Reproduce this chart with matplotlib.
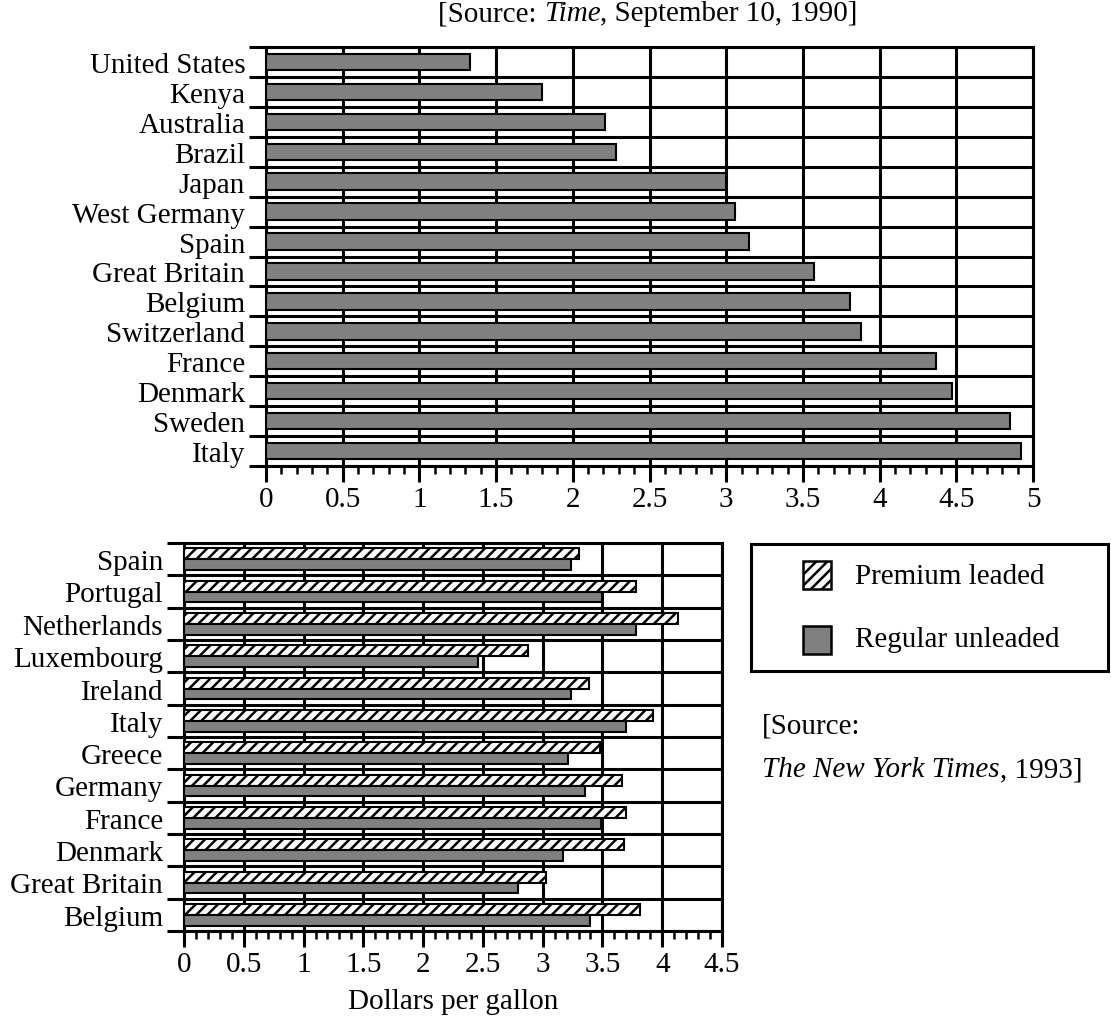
import matplotlib
matplotlib.use("Agg")
import matplotlib.pyplot as plt
import numpy as np
from matplotlib.patches import Rectangle
from matplotlib.ticker import FuncFormatter, MultipleLocator

plt.rcParams["font.family"] = ["Liberation Serif", "DejaVu Serif"]
plt.rcParams["hatch.linewidth"] = 1.8

# ── Data ─────────────────────────────────────────────────────────────────────
countries_1990 = ["United States", "Kenya", "Australia", "Brazil", "Japan",
                  "West Germany", "Spain", "Great Britain", "Belgium",
                  "Switzerland", "France", "Denmark", "Sweden", "Italy"]
price_1990 = [1.33, 1.80, 2.21, 2.28, 3.00, 3.06, 3.15,
              3.57, 3.81, 3.88, 4.37, 4.47, 4.85, 4.92]

countries_1993 = ["Spain", "Portugal", "Netherlands", "Luxembourg", "Ireland",
                  "Italy", "Greece", "Germany", "France", "Denmark",
                  "Great Britain", "Belgium"]
premium_1993 = [3.30, 3.78, 4.13, 2.88, 3.39, 3.92, 3.48, 3.66, 3.70, 3.68, 3.03, 3.81]
regular_1993 = [3.24, 3.50, 3.78, 2.46, 3.24, 3.70, 3.21, 3.35, 3.49, 3.17, 2.79, 3.40]

GRAY = "#808080"
FS = 21
LW = 2.2
W, H = 1111, 1020


def fx(px):
    return px / W


def fy(py):
    return 1 - py / H


def style_axes(ax, labels, xmax):
    n = len(labels)
    ax.set_xlim(0, xmax)
    ax.set_ylim(n - 0.5, -0.5)
    ax.xaxis.set_major_locator(MultipleLocator(0.5))
    ax.xaxis.set_minor_locator(MultipleLocator(0.1))
    ax.xaxis.set_major_formatter(FuncFormatter(lambda v, _: f"{v:g}"))
    ax.set_yticks(np.arange(n + 1) - 0.5)
    ax.set_yticklabels([])
    ax.set_yticks(np.arange(n), labels=labels, minor=True)
    ax.tick_params(axis="x", which="major", length=11.5, width=LW,
                   labelsize=FS, pad=3, color="black")
    ax.tick_params(axis="x", which="minor", length=6, width=1.8, color="black")
    ax.tick_params(axis="y", which="major", length=12, width=LW, color="black")
    ax.tick_params(axis="y", which="minor", length=0, labelsize=FS, pad=15)
    ax.grid(True, which="major", color="black", linewidth=LW)
    ax.set_axisbelow(True)
    for sp in ax.spines.values():
        sp.set_linewidth(LW)
        sp.set_color("black")


fig = plt.figure(figsize=(W / 100, H / 100), dpi=100)
fig.patch.set_facecolor("white")

# ── Top chart (1990) ─────────────────────────────────────────────────────────
ax_top = fig.add_axes([fx(266), fy(467), fx(1033) - fx(266), fy(48) - fy(467)])
y90 = np.arange(len(countries_1990))
ax_top.barh(y90, price_1990, height=0.55, color=GRAY, edgecolor="black",
            linewidth=1.5, zorder=3)
style_axes(ax_top, countries_1990, 5)

# ── Bottom chart (1993) ──────────────────────────────────────────────────────
ax_bot = fig.add_axes([fx(184), fy(932), fx(722) - fx(184), fy(544) - fy(932)])
y93 = np.arange(len(countries_1993))
bh = 0.34
ax_bot.barh(y93 - bh / 2, premium_1993, height=bh, facecolor="white",
            edgecolor="black", hatch="///", linewidth=1.5, zorder=3)
ax_bot.barh(y93 + bh / 2, regular_1993, height=bh, color=GRAY,
            edgecolor="black", linewidth=1.5, zorder=3)
style_axes(ax_bot, countries_1993, 4.5)
ax_bot.set_xlabel("Dollars per gallon", fontsize=FS, labelpad=8)

# ── Legend box ───────────────────────────────────────────────────────────────
fig.add_artist(Rectangle((fx(751), fy(672)), fx(1108) - fx(751), fy(545) - fy(672),
                         transform=fig.transFigure, fill=False,
                         edgecolor="black", linewidth=LW))
fig.add_artist(Rectangle((fx(803), fy(590)), fx(28), 28 / H,
                         transform=fig.transFigure, facecolor="white",
                         edgecolor="black", hatch="///", linewidth=1.8))
fig.add_artist(Rectangle((fx(803), fy(655)), fx(28), 28 / H,
                         transform=fig.transFigure, facecolor=GRAY,
                         edgecolor="black", linewidth=1.8))
fig.text(fx(855), fy(577), "Premium leaded", fontsize=FS, va="center")
fig.text(fx(855), fy(640), "Regular unleaded", fontsize=FS, va="center")

# ── Sources ──────────────────────────────────────────────────────────────────
fig.text(fx(762), fy(727), "[Source:", fontsize=FS, va="center")
t_nyt = fig.text(fx(762), fy(770), "The New York Times", fontsize=FS,
                 style="italic", va="center")
ax_top.annotate(", 1993]", xy=(1, 0), xycoords=t_nyt, fontsize=FS,
                va="bottom", ha="left", annotation_clip=False)

t0 = fig.text(fx(438), fy(14), "[Source: ", fontsize=FS, va="center")
t1 = ax_top.annotate("Time", xy=(1, 0), xycoords=t0, fontsize=FS,
                     style="italic", va="bottom", ha="left",
                     annotation_clip=False)
ax_top.annotate(", September 10, 1990]", xy=(1, 0), xycoords=t1, fontsize=FS,
                va="bottom", ha="left", annotation_clip=False)

fig.savefig("out.png", dpi=100, facecolor="white")
